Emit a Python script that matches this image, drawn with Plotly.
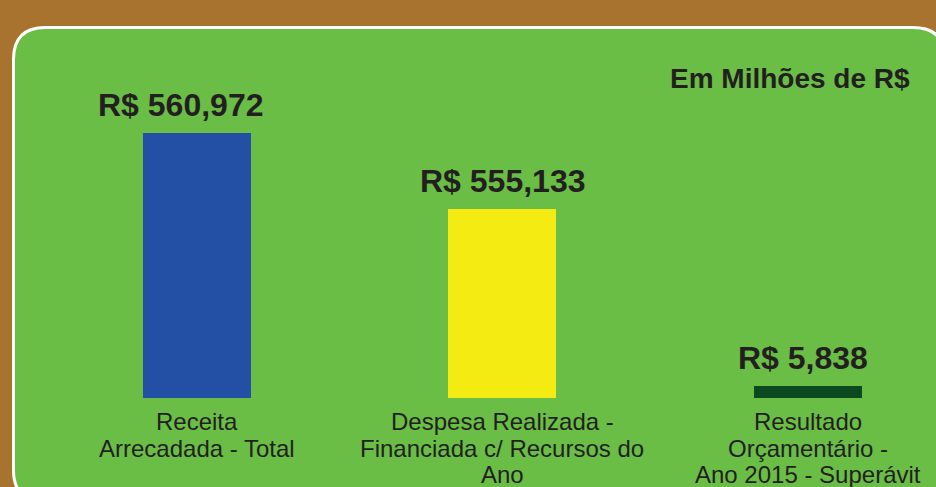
import plotly.graph_objects as go

# ---------------- data ----------------
categories = [
    "Receita\nArrecadada - Total",
    "Despesa Realizada -\nFinanciada c/ Recursos do\nAno",
    "Resultado\nOrçamentário -\nAno 2015 - Superávit",
]
value_labels = ["R$ 560,972", "R$ 555,133", "R$ 5,838"]
# bar heights as drawn in the (not-to-scale) infographic, relative units (first bar = 100)
bar_heights = [100, 71.3, 4.5]
unit_note = "Em Milhões de R$"

# ---------------- style ----------------
W, H = 936, 487
BROWN = "#A8732F"
GREEN = "#6ABD45"
BAR_COLORS = ["#2350A5", "#F3EB12", "#0A4A1E"]
TEXT = "#231F20"
FONT = "Liberation Sans, Arial, sans-serif"


def px(p):
    return p / W


def py(p):
    return 1 - p / H


fig = go.Figure()
fig.add_trace(go.Bar(
    x=list(range(len(categories))),
    y=bar_heights,
    width=0.3535,
    marker=dict(color=BAR_COLORS, line=dict(width=0)),
    hoverinfo="skip",
    showlegend=False,
))

# rounded panel with white border
x0, y0, x1, y1, r = 13.5, 27.5, 945, 502, 32
pts = [
    ("M", [(x0 + r, y0)]), ("L", [(x1 - r, y0)]), ("Q", [(x1, y0), (x1, y0 + r)]),
    ("L", [(x1, y1 - r)]), ("Q", [(x1, y1), (x1 - r, y1)]),
    ("L", [(x0 + r, y1)]), ("Q", [(x0, y1), (x0, y1 - r)]),
    ("L", [(x0, y0 + r)]), ("Q", [(x0, y0), (x0 + r, y0)]),
]
path = " ".join(cmd + " " + " ".join(f"{px(a):.5f},{py(b):.5f}" for a, b in c) for cmd, c in pts) + " Z"
fig.add_shape(type="path", path=path, xref="paper", yref="paper",
              fillcolor=GREEN, line=dict(color="white", width=3), layer="below")

annotations = []
# value labels above bars
LABEL_XSHIFT = (-16, 0, -5)
for i, (lab, h) in enumerate(zip(value_labels, bar_heights)):
    annotations.append(dict(
        x=i, y=h, xref="x", yref="y", text=f"<b>{lab}</b>", showarrow=False,
        xanchor="center", yanchor="bottom", yshift=8, xshift=LABEL_XSHIFT[i],
        font=dict(family=FONT, size=32, color=TEXT),
    ))

# category labels below bars (one annotation per line for tight spacing)
for i, cat in enumerate(categories):
    for j, line in enumerate(cat.split("\n")):
        baseline = 429 + 26.5 * j
        annotations.append(dict(
            x=i, y=py(baseline - 7.5), xref="x", yref="paper", text=line,
            showarrow=False, xanchor="center", yanchor="middle",
            font=dict(family=FONT, size=24, color=TEXT),
        ))

annotations.append(dict(
    x=px(912), y=py(78), xref="paper", yref="paper", text=f"<b>{unit_note}</b>",
    showarrow=False, xanchor="right", yanchor="middle",
    font=dict(family=FONT, size=28, color=TEXT),
))

fig.update_layout(
    width=W, height=H,
    margin=dict(l=0, r=0, t=0, b=0),
    paper_bgcolor=BROWN, plot_bgcolor="rgba(0,0,0,0)",
    xaxis=dict(visible=False, range=[-0.6432, 2.4206], fixedrange=True),
    yaxis=dict(visible=False, range=[-33.585, 150.19], fixedrange=True),
    annotations=annotations,
    bargap=0,
)

fig.write_html(
    "out.html",
    config={"displayModeBar": False},
    post_script="document.body.style.margin='0';document.body.style.overflow='hidden';",
)
